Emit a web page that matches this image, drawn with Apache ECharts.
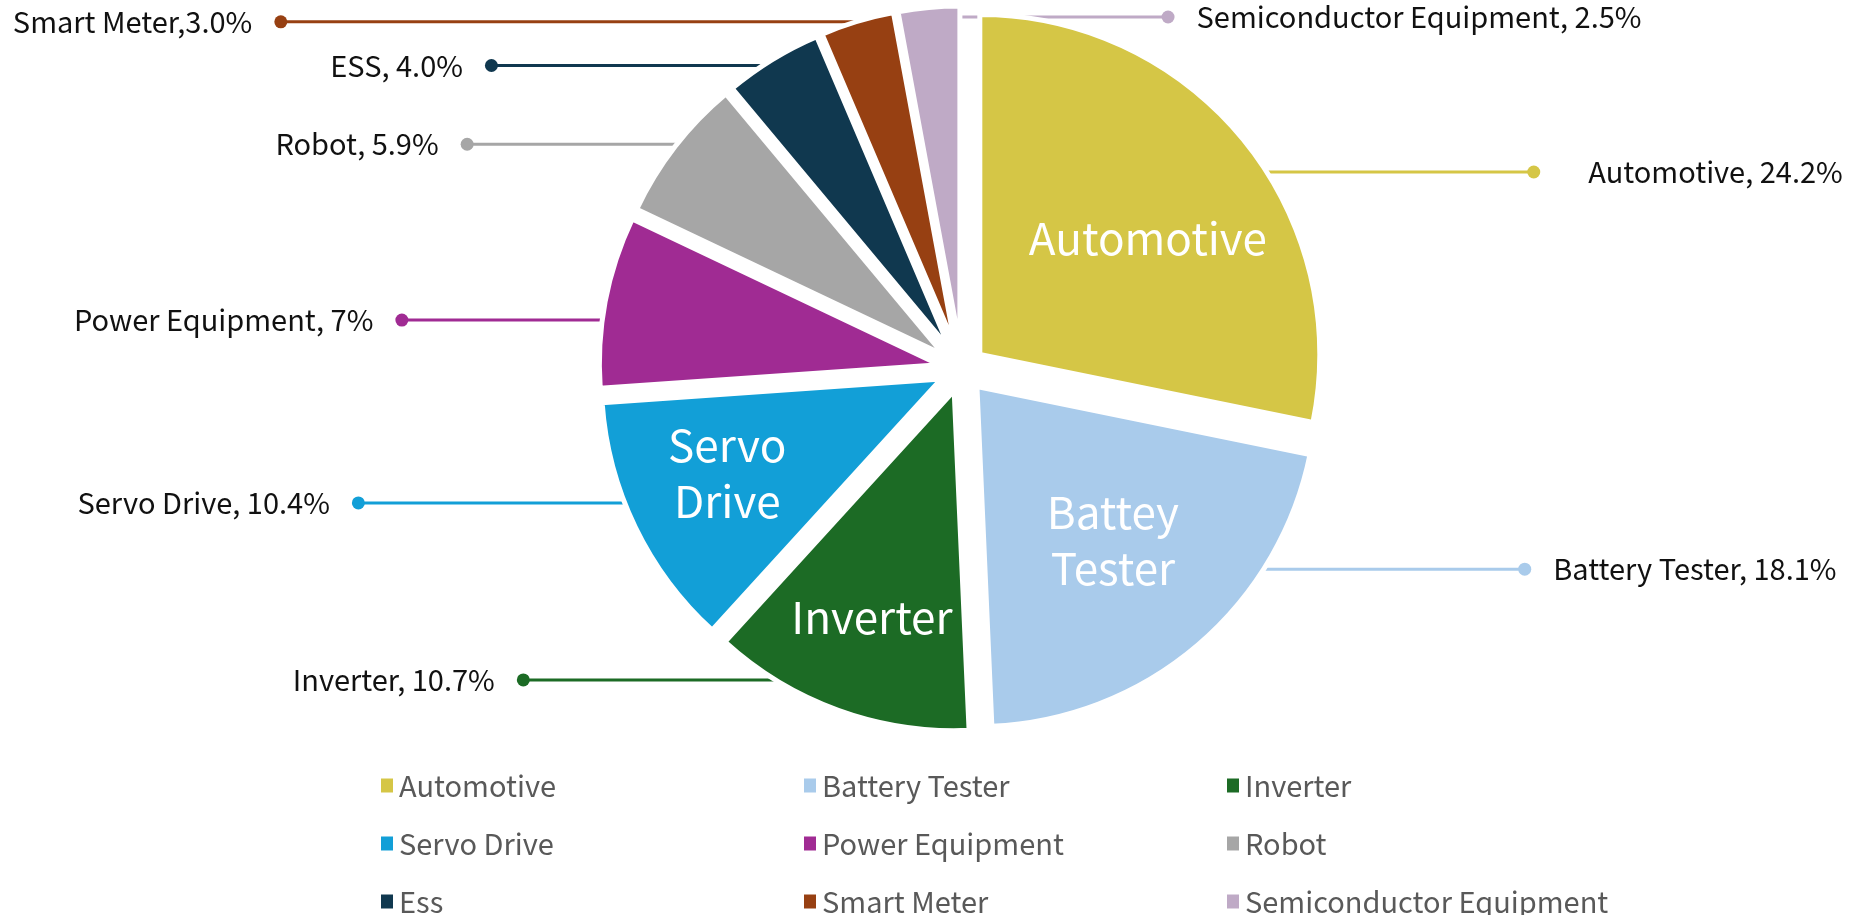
<!DOCTYPE html>
<html>
<head>
<meta charset="utf-8">
<title>Application share</title>
<script src="https://cdn.jsdelivr.net/npm/echarts@6/dist/echarts.min.js"></script>
<style>
  html, body { margin: 0; padding: 0; background: #fff; }
  #chart { width: 1850px; height: 915px; }
</style>
</head>
<body>
<div id="chart"></div>
<script>
// share by application (%)
const categories = ['Automotive', 'Battery Tester', 'Inverter', 'Servo Drive', 'Power Equipment', 'Robot', 'Ess', 'Smart Meter', 'Semiconductor Equipment'];
const values = [24.2, 18.1, 10.7, 10.4, 7, 5.9, 4.0, 3.0, 2.5];
const outerLabels = ['    Automotive, 24.2%', 'Battery Tester, 18.1%', 'Inverter, 10.7%', 'Servo Drive, 10.4%', 'Power Equipment, 7%', 'Robot, 5.9%', 'ESS, 4.0%', 'Smart Meter,3.0%', 'Semiconductor Equipment, 2.5%'];
const innerLabels = ['Automotive', 'Battey\nTester', 'Inverter', 'Servo\nDrive', '', '', '', '', ''];
const colors = ['#d5c646', '#a9cbeb', '#1c6b25', '#129fd7', '#a02b93', '#a6a6a6', '#10384f', '#974012', '#bfaac6'];

// label placement tweaks (side / px / [radius share, deg]), layout only
const labelSide = [1, 1, -1, -1, -1, -1, -1, -1, 1];
const labelShift = [31, -74, -28, -23, 18, -4, 4, -2, 7];
const lineLen = [270, 264, 257, 269, 203, 213, 276, 584, 239];
const innerPos = [[0.606, 4.5], [0.608, -1], [0.715, 0], [0.693, 2]];

const CX = 962, CY = 369, R = 340, OFFSET = 23, BORDER = 5;
const RV = R - BORDER / 2;
const FONT = '"Noto Sans CJK KR", Roboto, sans-serif';

// mid angle of each slice, clockwise from 12 o'clock
const total = values.reduce((s, v) => s + v, 0);
const midAngles = [];
let acc = 0;
values.forEach(v => {
  midAngles.push((acc + v / 2) / total * Math.PI * 2);
  acc += v;
});

function sliceCenter(i) {
  const a = midAngles[i];
  return [CX + OFFSET * Math.sin(a), CY - OFFSET * Math.cos(a)];
}

const rich = {
  t: {fontFamily: FONT, fontSize: 29, color: '#111'},
  g: {width: 22}
};
colors.forEach((c, i) => {
  rich['d' + i] = {width: 13, height: 13, borderRadius: 7, backgroundColor: c};
});

const chart = echarts.init(document.getElementById('chart'));
chart.setOption({
  animation: false,
  backgroundColor: '#fff',
  color: colors,
  legend: {
    data: categories,
    left: 379,
    top: 768,
    width: 1270,
    padding: 0,
    icon: 'rect',
    itemWidth: 14,
    itemHeight: 16,
    itemGap: 23,
    selectedMode: false,
    textStyle: {fontFamily: FONT, fontSize: 29, color: '#595959', width: 380, lineHeight: 35}
  },
  series: [
    {
      // slices
      type: 'pie',
      center: [CX, CY],
      radius: R,
      z: 3,
      selectedMode: 'multiple',
      selectedOffset: OFFSET,
      itemStyle: {borderColor: '#fff', borderWidth: BORDER},
      label: {show: false},
      labelLine: {show: false},
      emphasis: {disabled: true},
      data: categories.map((n, i) => ({name: n, value: values[i], selected: true}))
    },
    {
      // outside labels
      type: 'pie',
      center: [CX, CY],
      radius: R,
      z: 2,
      silent: true,
      avoidLabelOverlap: false,
      itemStyle: {color: 'rgba(0,0,0,0)'},
      emphasis: {disabled: true},
      label: {
        show: true,
        position: 'outside',
        rich: rich,
        formatter: p => {
          const i = p.dataIndex;
          return labelSide[i] > 0
            ? '{d' + i + '|}{g|}{t|' + outerLabels[i] + '}'
            : '{t|' + outerLabels[i] + '}{g|}{d' + i + '|}';
        }
      },
      labelLine: {show: true, length: 10, length2: 10, lineStyle: {width: 3}},
      labelLayout: p => {
        const i = p.dataIndex;
        const a = midAngles[i];
        const [ox, oy] = sliceCenter(i);
        const side = labelSide[i];
        const y = oy - RV * Math.cos(a) + labelShift[i];
        const sliceSide = Math.sin(a) >= 0 ? 1 : -1;
        const xs = side === sliceSide
          ? ox + side * Math.sqrt(RV * RV - (y - oy) * (y - oy))
          : ox + RV * Math.sin(a);
        const xd = xs + side * lineLen[i];
        return {
          x: xd - side * 6.5,
          y: y,
          align: side > 0 ? 'left' : 'right',
          verticalAlign: 'middle',
          labelLinePoints: [[xs, y], [(xs + xd) / 2, y], [xd, y]]
        };
      },
      data: categories.map((n, i) => ({
        name: n, value: values[i],
        labelLine: {lineStyle: {color: colors[i], width: 3}}
      }))
    },
    {
      // labels inside the big slices
      type: 'pie',
      center: [CX, CY],
      radius: R,
      z: 4,
      silent: true,
      itemStyle: {color: 'rgba(0,0,0,0)'},
      emphasis: {disabled: true},
      label: {
        show: true,
        position: 'inside',
        color: '#fff',
        fontFamily: FONT,
        fontSize: 44,
        lineHeight: 56,
        formatter: p => innerLabels[p.dataIndex]
      },
      labelLine: {show: false},
      labelLayout: p => {
        const i = p.dataIndex;
        if (innerPos[i] == null) return {};
        const a = midAngles[i] + innerPos[i][1] * Math.PI / 180;
        const r = innerPos[i][0] * RV;
        const [ox, oy] = sliceCenter(i);
        return {
          x: ox + r * Math.sin(a),
          y: oy - r * Math.cos(a),
          align: 'center',
          verticalAlign: 'middle'
        };
      },
      data: categories.map((n, i) => ({name: n, value: values[i]}))
    }
  ]
});
</script>
</body>
</html>
